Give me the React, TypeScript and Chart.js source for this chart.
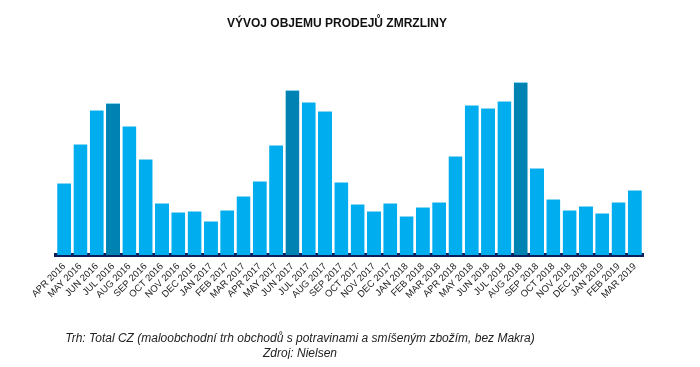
import React, { useEffect, useRef } from "react";
import { Chart, registerables } from "chart.js";

Chart.register(...registerables);

const months = [
  "APR 2016", "MAY 2016", "JUN 2016", "JUL 2016", "AUG 2016", "SEP 2016",
  "OCT 2016", "NOV 2016", "DEC 2016", "JAN 2017", "FEB 2017", "MAR 2017",
  "APR 2017", "MAY 2017", "JUN 2017", "JUL 2017", "AUG 2017", "SEP 2017",
  "OCT 2017", "NOV 2017", "DEC 2017", "JAN 2018", "FEB 2018", "MAR 2018",
  "APR 2018", "MAY 2018", "JUN 2018", "JUL 2018", "AUG 2018", "SEP 2018",
  "OCT 2018", "NOV 2018", "DEC 2018", "JAN 2019", "FEB 2019", "MAR 2019",
];

const volumes = [
  72, 111, 145, 152, 129, 96, 52, 43, 44, 34, 45, 59,
  74, 110, 165, 153, 144, 73, 51, 44, 52, 39, 48, 53,
  99, 150, 147, 154, 173, 87, 56, 45, 49, 42, 53, 65,
];

const peakMonths = ["JUL 2016", "JUN 2017", "AUG 2018"];

const titleText = "VÝVOJ OBJEMU PRODEJŮ ZMRZLINY";
const footerLines = [
  "Trh: Total CZ (maloobchodní trh obchodů s potravinami a smíšeným zbožím, bez Makra)",
  "Zdroj: Nielsen",
];

const BAR = "#00ADEE";
const BAR_PEAK = "#0082B2";
const BAR_EDGE = "#86D6F4";
const AXIS = "#0C1F5A";

export default function App() {
  const ref = useRef<HTMLCanvasElement | null>(null);

  useEffect(() => {
    if (!ref.current) return;
    const colors = months.map((m) => (peakMonths.includes(m) ? BAR_PEAK : BAR));
    const chart = new Chart(ref.current, {
      type: "bar",
      data: {
        labels: months,
        datasets: [
          {
            data: volumes,
            backgroundColor: colors,
            borderColor: BAR_EDGE,
            borderWidth: { top: 1, left: 0, right: 0, bottom: 0 },
            barPercentage: 0.86,
            categoryPercentage: 1,
          },
        ],
      },
      options: {
        animation: false,
        responsive: false,
        maintainAspectRatio: false,
        layout: { padding: { left: 48, right: 49, top: 32, bottom: 44 } },
        plugins: {
          legend: { display: false },
          title: { display: false },
          tooltip: { enabled: false },
        },
        scales: {
          y: {
            display: false,
            min: 0,
            max: 215,
          },
          x: {
            grid: { display: false, drawTicks: false },
            border: { display: true, color: AXIS, width: 4 },
            ticks: {
              minRotation: 45,
              maxRotation: 45,
              autoSkip: false,
              padding: 6,
              color: "#1a1a1a",
              font: { family: "'Liberation Sans', Arial, sans-serif", size: 9.5 },
            },
            afterFit: (scale: any) => {
              scale.height = 60;
            },
          },
        },
      },
    });
    return () => chart.destroy();
  }, []);

  return (
    <div style={{ position: "relative", width: 684, height: 351, fontFamily: "'Liberation Sans', Arial, sans-serif" }}>
      <canvas ref={ref} width={684} height={351} style={{ display: "block" }} />
      <div
        style={{
          position: "absolute",
          top: 8,
          left: 229,
          width: 200,
          textAlign: "center",
          fontWeight: "bold",
          fontSize: 12,
          color: "#111",
          whiteSpace: "nowrap",
          display: "flex",
          justifyContent: "center",
        }}
      >
        {titleText}
      </div>
      <div
        style={{
          position: "absolute",
          top: 323,
          left: 92,
          width: 400,
          display: "flex",
          flexDirection: "column",
          alignItems: "center",
          fontStyle: "italic",
          fontSize: 12,
          lineHeight: "15px",
          color: "#222",
          whiteSpace: "nowrap",
        }}
      >
        {footerLines.map((l) => (
          <div key={l}>{l}</div>
        ))}
      </div>
    </div>
  );
}
